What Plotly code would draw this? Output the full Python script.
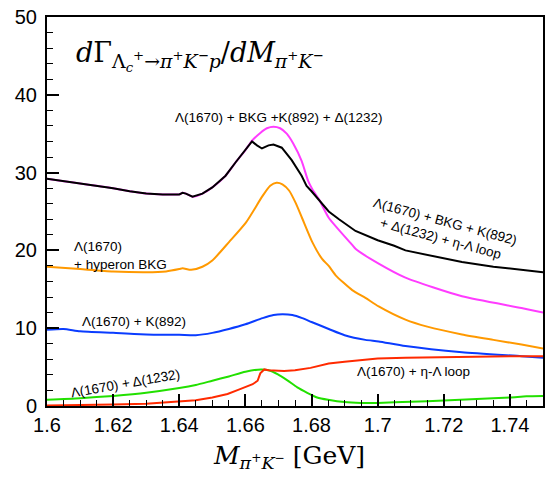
import plotly.graph_objects as go

# ---- data ----
x_black = [1.600, 1.605, 1.610, 1.615, 1.620, 1.625, 1.630, 1.635, 1.640, 1.641, 1.642, 1.644, 1.647, 1.650,
           1.654, 1.657, 1.660, 1.662, 1.6635, 1.665, 1.667, 1.6685, 1.671, 1.674, 1.677, 1.6785, 1.680,
           1.6832, 1.6852, 1.6883, 1.6933, 1.700, 1.705, 1.7084, 1.715, 1.7255, 1.735, 1.7435, 1.750]
y_black = [29.2, 28.9, 28.6, 28.3, 28.0, 27.6, 27.3, 27.2, 27.2, 27.4, 27.3, 26.9, 27.3, 28.1,
           29.6, 31.3, 32.9, 34.0, 33.5, 33.1, 33.5, 33.6, 33.2, 31.6, 29.6, 28.3, 27.6,
           26.0, 25.0, 24.0, 22.5, 21.3, 20.6, 20.0, 19.4, 18.5, 17.9, 17.5, 17.2]

x_magenta = [1.600, 1.605, 1.610, 1.615, 1.620, 1.625, 1.630, 1.635, 1.640, 1.641, 1.642, 1.644, 1.647, 1.650,
             1.654, 1.657, 1.660, 1.662, 1.6645, 1.6665, 1.6685, 1.6705, 1.6725, 1.6745, 1.677, 1.679,
             1.6802, 1.6822, 1.6852, 1.6923, 1.6933, 1.7003, 1.7084, 1.7255, 1.7435, 1.750]
y_magenta = [29.2, 28.9, 28.6, 28.3, 28.0, 27.6, 27.3, 27.2, 27.2, 27.4, 27.3, 26.9, 27.3, 28.1,
             29.6, 31.3, 32.9, 34.1, 35.1, 35.7, 35.9, 35.7, 35.0, 33.7, 31.5, 28.9,
             27.9, 26.6, 24.2, 20.7, 20.2, 18.3, 16.5, 14.1, 12.6, 12.0]

x_orange = [1.600, 1.610, 1.620, 1.630, 1.636, 1.640, 1.641, 1.6436, 1.647, 1.650, 1.6551, 1.6602, 1.6652,
            1.6675, 1.6694, 1.6712, 1.6732, 1.6752, 1.6772, 1.6802, 1.6832, 1.6852, 1.6873, 1.6923, 1.6963,
            1.7003, 1.7084, 1.715, 1.7255, 1.735, 1.7435, 1.750]
y_orange = [17.9, 17.6, 17.3, 17.2, 17.3, 17.6, 17.7, 17.5, 17.9, 18.7, 21.1, 23.6, 27.0,
            28.3, 28.7, 28.5, 27.7, 26.1, 24.1, 21.1, 18.9, 18.0, 16.8, 14.9, 13.9,
            12.8, 11.1, 10.2, 9.2, 8.5, 7.9, 7.4]

x_blue = [1.600, 1.605, 1.610, 1.620, 1.630, 1.640, 1.645, 1.650, 1.655, 1.660, 1.6652, 1.6685, 1.6712,
          1.6742, 1.6772, 1.680, 1.6852, 1.690, 1.6963, 1.7003, 1.7084, 1.7255, 1.7435, 1.750]
y_blue = [9.8, 9.9, 9.6, 9.4, 9.2, 9.15, 9.1, 9.4, 9.9, 10.5, 11.3, 11.7, 11.8,
          11.7, 11.3, 10.8, 9.9, 9.1, 8.5, 8.3, 7.7, 6.9, 6.4, 6.2]

x_green = [1.600, 1.610, 1.620, 1.630, 1.640, 1.645, 1.650, 1.655, 1.660, 1.6647, 1.667, 1.6697, 1.6727,
           1.6757, 1.6787, 1.6817, 1.685, 1.690, 1.695, 1.700, 1.710, 1.720, 1.730, 1.740, 1.745, 1.750]
y_green = [0.8, 1.0, 1.3, 1.7, 2.3, 2.7, 3.25, 3.8, 4.4, 4.7, 4.6, 4.1, 3.3,
           2.4, 1.7, 1.1, 0.8, 0.5, 0.4, 0.4, 0.55, 0.7, 0.9, 1.1, 1.25, 1.3]

x_red = [1.600, 1.610, 1.620, 1.630, 1.640, 1.645, 1.650, 1.6546, 1.658, 1.6622, 1.6637, 1.664, 1.6645,
         1.6657, 1.667, 1.6717, 1.675, 1.6797, 1.6852, 1.690, 1.700, 1.7084, 1.7255, 1.740, 1.750]
y_red = [0.05, 0.1, 0.2, 0.3, 0.55, 0.75, 1.1, 1.55, 2.1, 2.8, 3.25, 3.6, 4.2,
         4.7, 4.6, 4.5, 4.6, 4.9, 5.45, 5.7, 6.1, 6.2, 6.35, 6.4, 6.4]

x_tickvals = [1.6, 1.62, 1.64, 1.66, 1.68, 1.7, 1.72, 1.74]
x_ticktext = ["1.6", "1.62", "1.64", "1.66", "1.68", "1.7", "1.72", "1.74"]
y_tickvals = [0, 10, 20, 30, 40, 50]
y_ticktext = ["0", "10", "20", "30", "40", "50"]

series = [
    ("magenta", x_magenta, y_magenta, "#ff3cff", "spline"),
    ("orange", x_orange, y_orange, "#ff9900", "spline"),
    ("blue", x_blue, y_blue, "#0a3cff", "spline"),
    ("green", x_green, y_green, "#22e000", "spline"),
    ("red", x_red, y_red, "#ff2a00", "linear"),
    ("black", x_black, y_black, "#000000", "linear"),
]

fig = go.Figure()
for name, xs, ys, col, shape in series:
    fig.add_trace(go.Scatter(x=xs, y=ys, mode="lines", name=name,
                             line=dict(color=col, width=2, shape=shape, smoothing=0.6),
                             showlegend=False))

sans = "Liberation Sans, Arial, Helvetica, sans-serif"
serif = "DejaVu Serif, Liberation Serif, serif"

axis_common = dict(showgrid=False, zeroline=False, showline=True, linecolor="black", linewidth=2,
                   mirror=True, ticks="inside", ticklen=12, tickwidth=1.5, tickcolor="black",
                   tickfont=dict(family=sans, size=20, color="black"))

fig.update_xaxes(range=[1.6, 1.75], tickvals=x_tickvals, ticktext=x_ticktext,
                 minor=dict(ticks="inside", ticklen=6, tickwidth=1, tickcolor="black", dtick=0.005),
                 **axis_common)
fig.update_yaxes(range=[0, 50], tickvals=y_tickvals, ticktext=y_ticktext,
                 minor=dict(ticks="inside", ticklen=6, tickwidth=1, tickcolor="black", dtick=2),
                 ticklabelstandoff=4, **axis_common)

ann = []
def A(text, x, y, size=13.5, angle=0, xanchor="center", align="center", font=sans, xref="x", yref="y"):
    ann.append(dict(text=text, x=x, y=y, xref=xref, yref=yref, showarrow=False, textangle=angle,
                    xanchor=xanchor, yanchor="middle", align=align,
                    font=dict(family=font, size=size, color="black")))

A("<i>d</i>Γ<sub>Λ<sub><i>c</i></sub><sup>+</sup>→<i>π</i><sup>+</sup><i>K</i><sup>−</sup><i>p</i></sub>"
  "/<i>dM</i><sub><i>π</i><sup>+</sup><i>K</i><sup>−</sup></sub>",
  1.6082, 45.0, size=27, xanchor="left", font=serif)
A("Λ(1670) + BKG +K(892) + Δ(1232)", 1.6702, 37.1)
A("Λ(1670) + BKG + K(892)<br>+ Δ(1232) + η-Λ loop", 1.7199, 22.6, angle=15)
A("Λ(1670)<br>+ hyperon BKG", 1.6075, 19.3, xanchor="left", align="left")
A("Λ(1670) + K(892)", 1.6099, 10.9, xanchor="left")
A("Λ(1670) + Δ(1232)", 1.6238, 2.9, angle=-10)
A("Λ(1670) + η-Λ loop", 1.7108, 4.4)
A("<i>M</i><sub><i>π</i><sup>+</sup><i>K</i><sup>−</sup></sub> [GeV]", 0.488, -0.13, size=25,
  font=serif, xref="paper", yref="paper")

fig.update_layout(width=551, height=477, margin=dict(l=47, r=6, t=12, b=71),
                  paper_bgcolor="white", plot_bgcolor="white", annotations=ann)

fig.write_html("out.html")
